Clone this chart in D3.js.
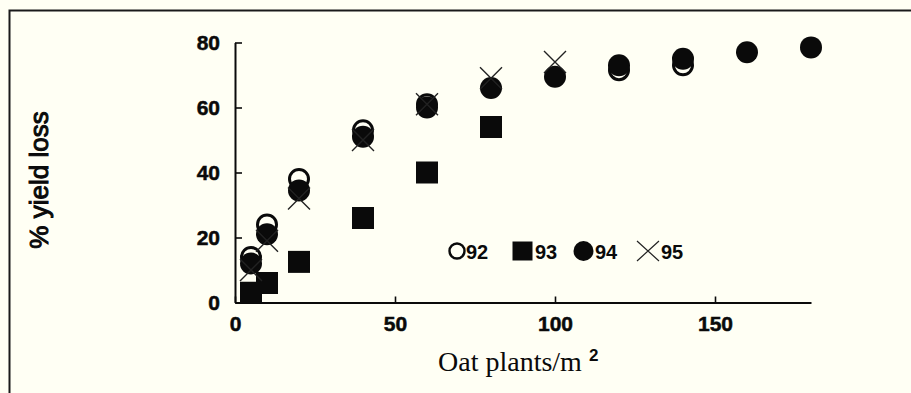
<!DOCTYPE html>
<html>
<head>
<meta charset="utf-8">
<script src="https://cdn.jsdelivr.net/npm/d3@7"></script>
<style>
  html, body { margin: 0; padding: 0; background: #fffff4; }
  svg { display: block; }
</style>
</head>
<body>
<svg id="chart" width="911" height="393"></svg>
<script>
// ---- data ----
const xTicks = [0, 50, 100, 150];
const yTicks = [0, 20, 40, 60, 80];
const seriesNames = ["92", "93", "94", "95"];

const x92 = [5, 10, 20, 40, 60, 120, 140];
const y92 = [14, 24, 38, 53, 61, 71.5, 73];

const x93 = [5, 10, 20, 40, 60, 80];
const y93 = [3, 6, 12.5, 26, 40, 54];

const x94 = [5, 10, 20, 40, 60, 80, 100, 120, 140, 160, 180];
const y94 = [12, 21, 34.5, 51, 60, 66, 69.5, 73, 75, 77, 78.5];

const x95 = [5, 10, 20, 40, 60, 80, 100];
const y95 = [10, 19, 32, 50, 61, 69, 74];

// ---- drawing ----
const svg = d3.select("#chart");
const ink = "#0a0a0a";

svg.append("rect").attr("width", 911).attr("height", 393).attr("fill", "#fffff4");
// frame
svg.append("rect").attr("x", 9.5).attr("y", 10.5).attr("width", 1000).attr("height", 500)
  .attr("fill", "none").attr("stroke", "#1a1a1a").attr("stroke-width", 2);

const x = d3.scaleLinear().domain([0, 180]).range([235, 811]);
const y = d3.scaleLinear().domain([0, 80]).range([302.5, 42.5]);

const xAxis = svg.append("g").attr("transform", `translate(0,${y(0)})`)
  .call(d3.axisBottom(x).tickValues(xTicks).tickSizeInner(-6).tickSizeOuter(0).tickPadding(14));
const yAxis = svg.append("g").attr("transform", `translate(${x(0)},0)`)
  .call(d3.axisLeft(y).tickValues(yTicks).tickSizeInner(-7).tickSizeOuter(0).tickPadding(15));

[xAxis, yAxis].forEach(g => {
  g.select(".domain").attr("stroke", ink).attr("stroke-width", 2);
  g.selectAll(".tick line").attr("stroke", ink).attr("stroke-width", 1.6);
  g.selectAll(".tick text").attr("fill", ink).attr("stroke", ink).attr("stroke-width", 0.5)
    .style("font-family", "'Liberation Sans', Arial, sans-serif")
    .style("font-size", "21px").style("font-weight", "bold");
});

// axis titles
svg.append("text")
  .attr("transform", `translate(48,180) rotate(-90)`)
  .attr("text-anchor", "middle")
  .style("font-family", "'Liberation Sans', Arial, sans-serif")
  .style("font-size", "26px")
  .attr("fill", ink).attr("stroke", ink).attr("stroke-width", 1)
  .text("% yield loss");

const xt = svg.append("text")
  .attr("x", 438).attr("y", 371)
  .style("font-family", "'Liberation Serif', 'Times New Roman', serif")
  .style("font-size", "28px")
  .attr("fill", ink);
xt.append("tspan").text("Oat plants/m ");
xt.append("tspan").attr("dy", -10)
  .style("font-family", "'Liberation Sans', Arial, sans-serif")
  .style("font-size", "17px").style("font-weight", "bold").text("2");

const plot = svg.append("g");
const r = 9.5;
const zip = (xs, ys) => xs.map((v, i) => ({ x: v, y: ys[i] }));

// 92 open circles
plot.selectAll(".s92").data(zip(x92, y92)).join("circle")
  .attr("cx", d => x(d.x)).attr("cy", d => y(d.y)).attr("r", r)
  .attr("fill", "#fffff4").attr("stroke", ink).attr("stroke-width", 3);

// 94 filled circles
plot.selectAll(".s94").data(zip(x94, y94)).join("circle")
  .attr("cx", d => x(d.x)).attr("cy", d => y(d.y)).attr("r", 11)
  .attr("fill", ink);

// 93 squares
const sq = 22;
plot.selectAll(".s93").data(zip(x93, y93)).join("rect")
  .attr("x", d => x(d.x) - sq / 2).attr("y", d => y(d.y) - sq / 2)
  .attr("width", sq).attr("height", sq).attr("fill", ink);

// 95 crosses
const cs = 11;
plot.selectAll(".s95").data(zip(x95, y95)).join("path")
  .attr("d", d => {
    const cx = x(d.x), cy = y(d.y);
    return `M${cx - cs},${cy - cs}L${cx + cs},${cy + cs}M${cx - cs},${cy + cs}L${cx + cs},${cy - cs}`;
  })
  .attr("stroke", "#222").attr("stroke-width", 1.4).attr("fill", "none");

// legend
const lg = svg.append("g");
const lgFont = sel => sel
  .style("font-family", "'Liberation Sans', Arial, sans-serif")
  .style("font-size", "20px").style("font-weight", "bold").attr("fill", ink);
const lgY = 251;
const lgItems = [
  { name: seriesNames[0], mx: 457, tx: 466 },
  { name: seriesNames[1], mx: 522.5, tx: 535 },
  { name: seriesNames[2], mx: 583.5, tx: 595 },
  { name: seriesNames[3], mx: 648, tx: 661 }
];
lg.append("circle").attr("cx", lgItems[0].mx).attr("cy", lgY).attr("r", 7.5)
  .attr("fill", "none").attr("stroke", ink).attr("stroke-width", 2.4);
lg.append("rect").attr("x", lgItems[1].mx - 10).attr("y", lgY - 9.5).attr("width", 20).attr("height", 19).attr("fill", ink);
lg.append("circle").attr("cx", lgItems[2].mx).attr("cy", lgY).attr("r", 10).attr("fill", ink);
lg.append("path").attr("d", `M${lgItems[3].mx - 11},${lgY - 10}L${lgItems[3].mx + 11},${lgY + 10}M${lgItems[3].mx - 11},${lgY + 10}L${lgItems[3].mx + 11},${lgY - 10}`)
  .attr("stroke", "#222").attr("stroke-width", 1.2);
lgItems.forEach(it => {
  lg.append("text").attr("x", it.tx).attr("y", lgY + 7.5).call(lgFont).text(it.name);
});
</script>
</body>
</html>
